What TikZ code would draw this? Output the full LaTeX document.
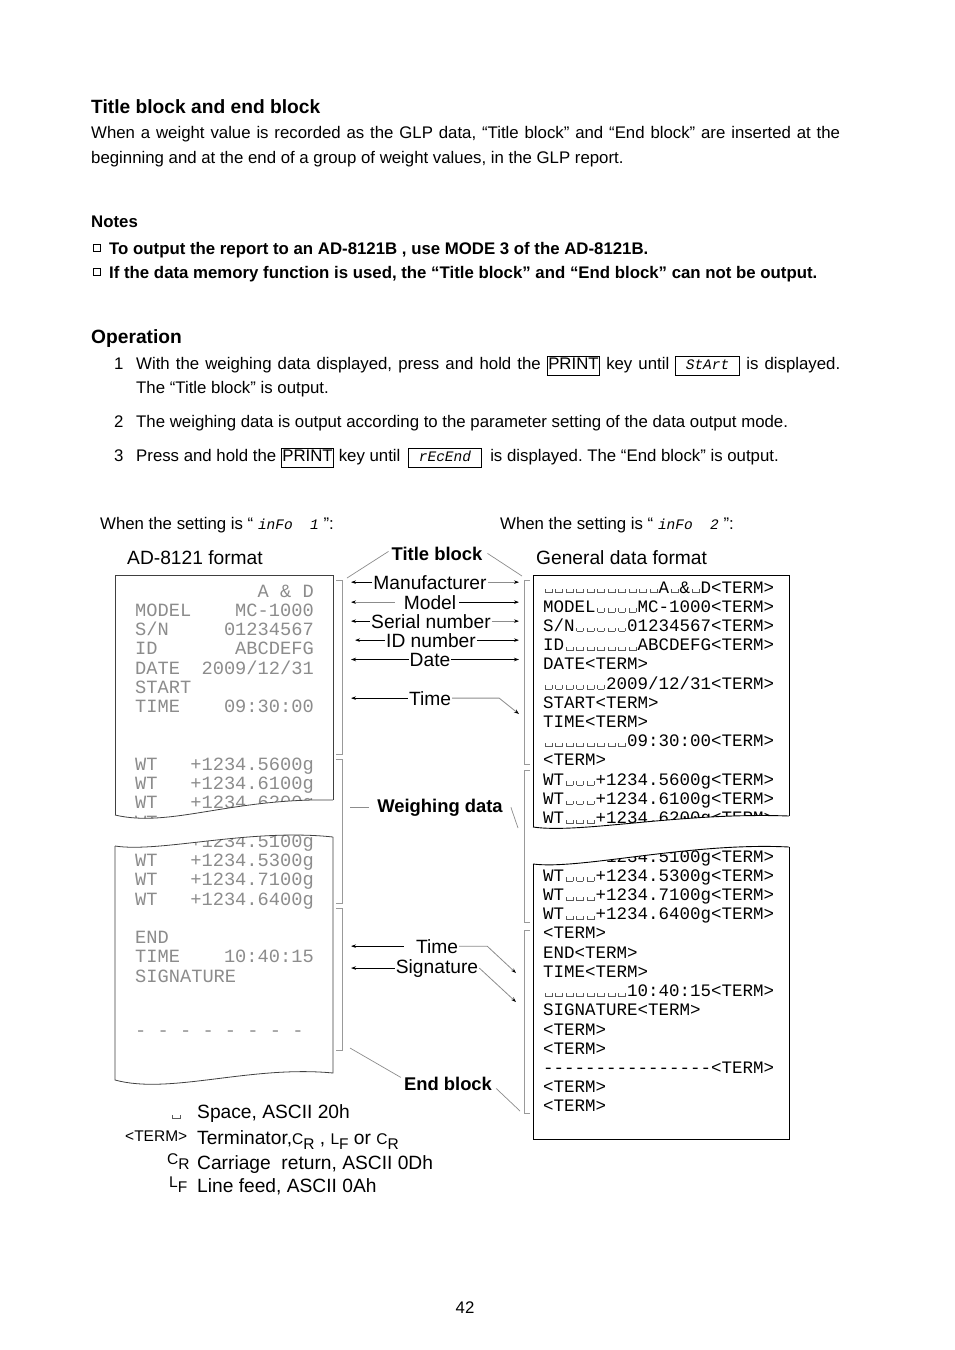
\documentclass[tikz,border=0pt]{standalone}
\usepackage{fontspec}
\setmainfont{Liberation Sans}
\newfontfamily\prfont{Liberation Mono}[Ligatures=TeXOff]
\usetikzlibrary{arrows.meta}
\frenchspacing
\newcommand\fs[1]{\fontsize{#1}{#1}\selectfont}
\newcommand\vs{\makebox[0.6em][c]{\color{black!65}\rule{0.6pt}{0.22em}\rule{0.36em}{0.6pt}\rule{0.6pt}{0.22em}}}
\newcommand\seg[1]{{\prfont\itshape\fs{14.5}#1}}
\newcommand\keybox[1]{{\fboxsep=0.6pt\fboxrule=0.8pt\fbox{\strut#1}}}
\newcommand\segbox[2]{{\fboxsep=0.6pt\fboxrule=0.8pt\fbox{\strut\makebox[#1][l]{\hspace{9pt}\seg{#2}}}}}
\newcommand\crsym{{\fs{15.5}C\raisebox{-5pt}{R}}}
\newcommand\lfsym{{\fs{15.5}L\raisebox{-5pt}{F}}}
\tikzset{txt/.style = {anchor = base west, inner sep = 0pt, font = \fs{16.8}}}
\tikzset{head/.style = {txt, font = \bfseries\fs{19.2}}}
\tikzset{lbl/.style = {anchor = base, inner sep = 1pt, font = \fs{19.2}}}
\tikzset{blbl/.style = {anchor = base, inner sep = 1pt, font = \bfseries\fs{18.4}}}
\tikzset{prline/.style = {anchor = base west, inner sep = 0pt, font = \prfont\fs{17.5}}}
\tikzset{dotline/.style = {anchor = base west, inner sep = 0pt, font = \prfont\fs{18.7}, text = black!45}}
\tikzset{paper/.style = {draw = black!75, line width = 0.8pt}}
\tikzset{brk/.style = {draw = black!40, line width = 0.8pt}}
\tikzset{bptr/.style = {-{Stealth[length = 5pt, width = 3.5pt]}, line width = 0.8pt}}
\tikzset{gptr/.style = {-{Stealth[length = 5pt, width = 3.5pt, color = black]}, line width = 0.8pt, draw = black!45}}
\tikzset{gline/.style = {line width = 0.7pt, draw = black!45}}

\begin{document}
\begin{tikzpicture}[x = 1pt, y = -1pt]
	\fill[white] (0,0) rectangle (954,1350);
	\useasboundingbox (0,0) rectangle (954,1350);

	% page text
	\node[head] (h1) at (91,113) {Title block and end block};
	\node[txt] (p1) at (91,138) {\makebox[749pt][s]{When a weight value is recorded as the GLP data, “Title block” and “End block” are inserted at the}};
	\node[txt] (p2) at (91,163) {beginning and at the end of a group of weight values, in the GLP report.};
	\node[txt, font = \bfseries\fs{16.8}] (nt) at (91,227) {Notes};
	\draw[line width = 0.6pt] (93.5,244.5) rectangle (100,251);
	\node[txt, font = \bfseries\fs{16.8}] (n1) at (109,254) {To output the report to an AD-8121B , use MODE 3 of the AD-8121B.};
	\draw[line width = 0.6pt] (93.5,268.5) rectangle (100,275);
	\node[txt, font = \bfseries\fs{16.8}] (n2) at (109,278) {If the data memory function is used, the “Title block” and “End block” can not be output.};
	\node[head] (h2) at (91,343) {Operation};
	\node[txt] (o1n) at (114,369) {1};
	\node[txt] (o1) at (136,369) {\makebox[704pt][s]{With the weighing data displayed, press and hold the \keybox{PRINT} key until \segbox{62pt}{StArt} is displayed.}};
	\node[txt] (o1b) at (136,393) {The “Title block” is output.};
	\node[txt] (o2n) at (114,427) {2};
	\node[txt] (o2) at (136,427) {The weighing data is output according to the parameter setting of the data output mode.};
	\node[txt] (o3n) at (114,461) {3};
	\node[txt] (o3) at (136,461) {Press and hold the \keybox{PRINT} key until\hspace{8pt}\segbox{71pt}{rEcEnd}\hspace{8pt}is displayed. The “End block” is output.};
	\node[txt] (s1) at (100,529) {When the setting is “ \seg{inFo\ \ 1} ”:};
	\node[txt] (s2) at (500,529) {When the setting is “ \seg{inFo\ \ 2} ”:};
	\node[txt, font = \fs{19.2}] (f1) at (127,564) {AD-8121 format};
	\node[txt, font = \fs{19.2}] (f2) at (536,564) {General data format};

	% AD-8121 print
	\foreach \k/\lab/\val in {0/{}/A \& D, 1/MODEL/MC-1000, 2/{S/N}/01234567, 3/ID/ABCDEFG,
			4/DATE/{2009/12/31}, 5/START/{}, 6/TIME/09:30:00, 9/WT/+1234.5600g, 10/WT/+1234.6100g,
			11/WT/+1234.6200g, 12/WT/+1234.6300g, 13/WT/+1234.5100g, 14/WT/+1234.5300g,
			15/WT/+1234.7100g, 16/WT/+1234.6400g, 18/END/{}, 19/TIME/10:40:15, 20/SIGNATURE/{}}
	{
		\node[dotline] (l\k a) at (135,{597+19.25*\k}) {\lab};
		\node[dotline, anchor = base east] (l\k b) at (314,{597+19.25*\k}) {\val};
	}
	\node[dotline] (ldash) at (135,1036) {- - - - - - - -};

	% general data format
	\foreach \t [count = \i from 0] in {
			\vs\vs\vs\vs\vs\vs\vs\vs\vs\vs\vs A\vs\&\vs D<TERM>,
			MODEL\vs\vs\vs\vs MC-1000<TERM>,
			S/N\vs\vs\vs\vs\vs 01234567<TERM>,
			ID\vs\vs\vs\vs\vs\vs\vs ABCDEFG<TERM>,
			DATE<TERM>,
			\vs\vs\vs\vs\vs\vs 2009/12/31<TERM>,
			START<TERM>,
			TIME<TERM>,
			\vs\vs\vs\vs\vs\vs\vs\vs 09:30:00<TERM>,
			<TERM>,
			WT\vs\vs\vs+1234.5600g<TERM>,
			WT\vs\vs\vs+1234.6100g<TERM>,
			WT\vs\vs\vs+1234.6200g<TERM>,
			WT\vs\vs\vs+1234.6300g<TERM>,
			WT\vs\vs\vs+1234.5100g<TERM>,
			WT\vs\vs\vs+1234.5300g<TERM>,
			WT\vs\vs\vs+1234.7100g<TERM>,
			WT\vs\vs\vs+1234.6400g<TERM>,
			<TERM>,
			END<TERM>,
			TIME<TERM>,
			\vs\vs\vs\vs\vs\vs\vs\vs 10:40:15<TERM>,
			SIGNATURE<TERM>,
			<TERM>,
			<TERM>,
			----------------<TERM>,
			<TERM>,
			<TERM>}
	{
		\node[prline] (r\i) at (543,{593+19.22*\i}) {\t};
	}

	% torn paper
	\fill[white] (115,815) .. controls (170,828) and (230,798) .. (333,800) -- (333,837)
		.. controls (250,828) and (160,853) .. (115,846) -- cycle;
	\fill[white] (533,827) .. controls (580,834) and (680,812) .. (789,816) -- (789,847)
		.. controls (690,842) and (580,870) .. (533,864) -- cycle;
	\draw[paper] (115,815) -- (115,575) -- (333,575) -- (333,800);
	\draw[paper] (115,815) .. controls (170,828) and (230,798) .. (333,800);
	\draw[paper] (115,846) .. controls (160,853) and (250,828) .. (333,837);
	\draw[paper] (333,837) -- (333,1073) .. controls (250,1065) and (170,1095) .. (115,1080) -- (115,846);
	\draw[line width = 0.9pt] (533,827) -- (533,575) -- (789,575) -- (789,816);
	\draw[line width = 0.9pt] (533,827) .. controls (580,834) and (680,812) .. (789,816);
	\draw[line width = 0.9pt] (533,864) .. controls (580,870) and (690,842) .. (789,847);
	\draw[line width = 0.9pt] (789,847) -- (789,1139) -- (533,1139) -- (533,864);

	% brackets
	\draw[brk] (336,580) -- (342,580) -- (342,754) -- (336,754);
	\draw[brk] (336,759) -- (342,759) -- (342,903) -- (336,903);
	\draw[brk] (336,908) -- (342,908) -- (342,1050) -- (336,1050);
	\draw[brk] (530,580) -- (524,580) -- (524,764) -- (530,764);
	\draw[brk] (530,770) -- (524,770) -- (524,922) -- (530,922);
	\draw[brk] (530,930) -- (524,930) -- (524,1113) -- (530,1113);

	% labels
	\coordinate (al) at (351,0);
	\coordinate (al3) at (355,0);
	\coordinate (ar) at (519,0);
	\node[blbl] (ttl) at (437,560) {Title block};
	\coordinate (ttlL) at (347,578);
	\coordinate (ttlR) at (522,576);
	\draw[gline] ([shift = {(-2pt,2pt)}]ttl.west) -- (ttlL);
	\draw[gline] ([xshift = 4pt]ttl.east) -- (ttlR);

	\node[lbl] (mf) at (430,589) {Manufacturer};
	\draw[bptr] (mf.west) -- (mf.west -| al);
	\draw[gptr] (mf.east) -- (mf.east -| ar);
	\node[lbl] (md) at (430,609) {Model};
	\draw[gptr] ([xshift = -8pt]md.west) -- (md.west -| al);
	\draw[bptr] ([xshift = 2pt]md.east) -- (md.east -| ar);
	\node[lbl] (sn) at (431,628) {Serial number};
	\draw[bptr] (sn.west) -- (sn.west -| al);
	\draw[gptr] (sn.east) -- (sn.east -| ar);
	\node[lbl] (idn) at (431,647) {ID number};
	\draw[bptr] (idn.west) -- (idn.west -| al3);
	\draw[bptr] (idn.east) -- (idn.east -| ar);
	\node[lbl] (dt) at (430,666) {Date};
	\draw[bptr] (dt.west) -- (dt.west -| al);
	\draw[bptr] (dt.east) -- (dt.east -| ar);
	\node[lbl] (tm) at (430,705) {Time};
	\coordinate (tmR) at (519,714);
	\draw[bptr] (tm.west) -- (tm.west -| al);
	\draw[gptr] (tm.east) -- ++(47,0) -- (tmR);

	\node[blbl] (wd) at (440,812) {Weighing data};
	\coordinate (wdL) at (350,804);
	\coordinate (wdR) at (518,828);
	\draw[gline] ([xshift = -7pt]wd.west) -- (wd.west -| wdL);
	\draw[gline] ([xshift = 7pt]wd.east) -- (wdR);

	\node[lbl] (te) at (437,953) {Time};
	\coordinate (teR) at (516,973);
	\draw[bptr] ([xshift = -11pt]te.west) -- (te.west -| al);
	\draw[gptr] (te.east) -- ++(28,0) -- (teR);
	\node[lbl] (sg) at (437,973) {Signature};
	\coordinate (sgR) at (516,1002);
	\draw[bptr] (sg.west) -- (sg.west -| al);
	\draw[gptr] (sg.east) -- (sgR);

	\node[blbl] (eb) at (448,1090) {End block};
	\coordinate (ebL) at (350,1048);
	\coordinate (ebR) at (520,1111);
	\draw[gline] ([shift = {(-2pt,6pt)}]eb.west) -- (ebL);
	\draw[gline] ([shift = {(3pt,-5pt)}]eb.east) -- (ebR);

	% legend
	\node[prline, font = \prfont\fs{20}] (lg1s) at (170,1119) {\vs};
	\node[txt, font = \fs{19.2}] (lg1) at (197,1118) {Space, ASCII 20h};
	\node[txt, font = \fs{15.5}] (lg2s) at (125,1141) {<TERM>};
	\node[txt, font = \fs{19.2}] (lg2) at (197,1144) {Terminator,\crsym\ ,\ \lfsym\ or \crsym};
	\node[txt] (lg3s) at (167,1164) {\crsym};
	\node[txt, font = \fs{19.2}] (lg3) at (197,1169) {Carriage\ \ return, ASCII 0Dh};
	\node[txt] (lg4s) at (169,1187) {\lfsym};
	\node[txt, font = \fs{19.2}] (lg4) at (197,1192) {Line feed, ASCII 0Ah};

	\node[txt, anchor = base] (pg) at (465,1313) {42};
\end{tikzpicture}
\end{document}
